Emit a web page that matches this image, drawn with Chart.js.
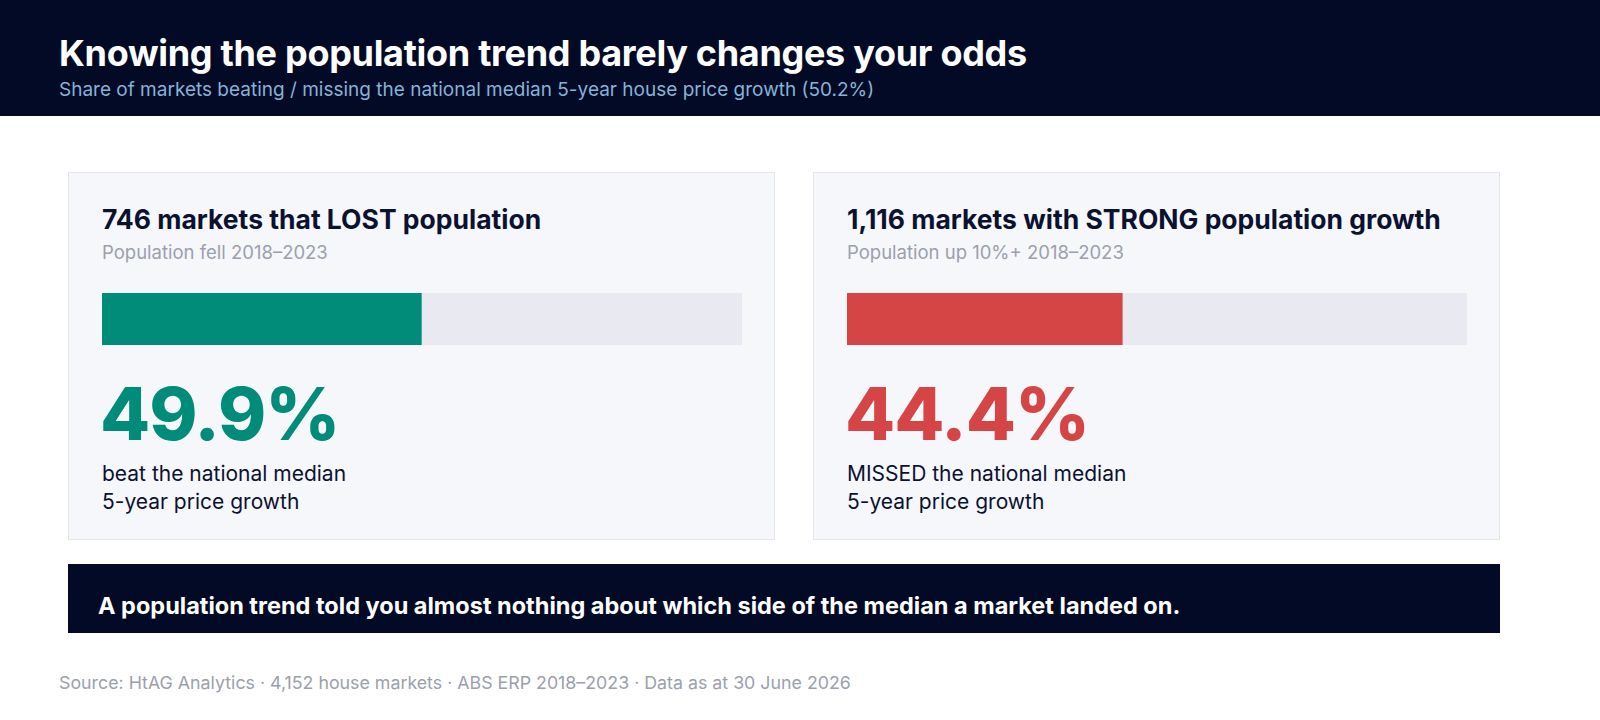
<!DOCTYPE html>
<html><head><meta charset="utf-8">
<script src="https://cdn.jsdelivr.net/npm/chart.js@4.4.0/dist/chart.umd.min.js"></script>
<style>
*{margin:0;padding:0;box-sizing:border-box}
body{width:1600px;height:720px;background:#fff;font-family:Inter,"Noto Sans",sans-serif;position:relative;overflow:hidden}
.hdr{position:absolute;left:0;top:0;width:1600px;height:116px;background:#020a26}
.t{position:absolute;left:59px;top:31px;font-size:36px;font-weight:700;color:#fff;letter-spacing:-0.3px}
.st{position:absolute;left:59px;top:78px;font-size:19px;color:#86b3d6}
.card{position:absolute;top:172px;height:368px;background:#f6f7fb;border:1px solid #e4e6ee}
.ct{position:absolute;left:33px;top:30px;font-size:26.5px;font-weight:700;color:#0b1230}
.cs{position:absolute;left:33px;top:68px;font-size:18.5px;color:#9ba0ad}
.trk{position:absolute;left:33px;top:120px;height:52px;background:#e8e9f1}
.pct{position:absolute;left:31px;top:196px;font-size:73px;font-weight:800;letter-spacing:-1px}
.lbl{position:absolute;left:33px;top:287px;font-size:21px;line-height:28px;color:#0b1230}
.ban{position:absolute;left:68px;top:564px;width:1432px;height:69px;background:#020a26;color:#fff;font-size:23.5px;font-weight:700;padding:27px 0 0 30px}
.src{position:absolute;left:59px;top:672px;font-size:17.8px;color:#9ba0ad}
</style></head><body>
<div class="hdr"><div class="t">Knowing the population trend barely changes your odds</div>
<div class="st">Share of markets beating / missing the national median 5-year house price growth (50.2%)</div></div>
<div class="card" style="left:68px;width:707px">
 <div class="ct">746 markets that LOST population</div>
 <div class="cs">Population fell 2018–2023</div>
 <div class="trk" style="width:640px"><canvas id="c0"></canvas></div>
 <div class="pct" id="p0" style="color:#008c78"></div>
 <div class="lbl">beat the national median<br>5-year price growth</div>
</div>
<div class="card" style="left:813px;width:687px">
 <div class="ct">1,116 markets with STRONG population growth</div>
 <div class="cs">Population up 10%+ 2018–2023</div>
 <div class="trk" style="width:620px"><canvas id="c1"></canvas></div>
 <div class="pct" id="p1" style="color:#d64545"></div>
 <div class="lbl">MISSED the national median<br>5-year price growth</div>
</div>
<div class="ban">A population trend told you almost nothing about which side of the median a market landed on.</div>
<div class="src">Source: HtAG Analytics · 4,152 house markets · ABS ERP 2018–2023 · Data as at 30 June 2026</div>
<script>
const groups = ["Lost population", "Strong population growth"];
const shares = [49.9, 44.4];
const colors = ["#008c78", "#d64545"];
shares.forEach((v,i)=>{
  document.getElementById('p'+i).textContent = v.toFixed(1)+'%';
  new Chart(document.getElementById('c'+i),{
    type:'bar',
    data:{labels:[groups[i]],datasets:[{data:[v],backgroundColor:colors[i],barPercentage:1,categoryPercentage:1,borderWidth:0}]},
    options:{indexAxis:'y',responsive:true,maintainAspectRatio:false,animation:false,
      layout:{padding:0},
      plugins:{legend:{display:false},tooltip:{enabled:false}},
      scales:{x:{display:false,min:0,max:100},y:{display:false}}}
  });
});
</script>
</body></html>
